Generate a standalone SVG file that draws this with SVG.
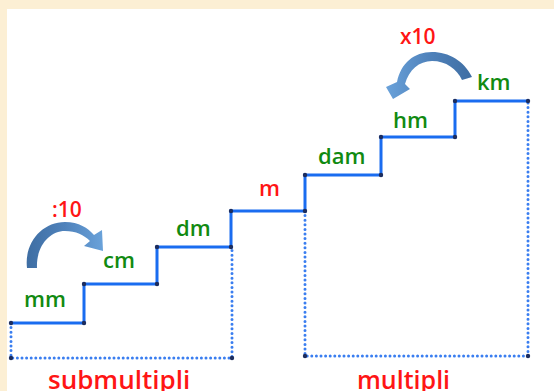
<svg xmlns="http://www.w3.org/2000/svg" width="554" height="391" viewBox="0 0 554 391">
  <defs>
    <style>
      .lbl { font-family: "Open Sans", "Liberation Sans", sans-serif; font-size: 22px; font-weight: 600; }
      .green { fill: #118a11; }
      .red { fill: #ff1515; }
      .big { font-size: 26px; }
      .stair { fill: none; stroke: #1a6cf0; stroke-width: 3; stroke-linejoin: miter; }
      .dots { fill: none; stroke: #3a7ef0; stroke-width: 3; stroke-linecap: round; stroke-dasharray: 0 4.6; }
      .pt { fill: #1c2d5e; }
      .arc { stroke: none; }
    </style>
    <linearGradient id="gl" x1="0" y1="0" x2="1" y2="0">
      <stop offset="0" stop-color="#3f6ea3"/>
      <stop offset="0.5" stop-color="#4f82bb"/>
      <stop offset="1" stop-color="#6aa2da"/>
    </linearGradient>
    <linearGradient id="gr" x1="1" y1="0" x2="0" y2="0">
      <stop offset="0" stop-color="#3f6ea3"/>
      <stop offset="0.5" stop-color="#4f82bb"/>
      <stop offset="1" stop-color="#6aa2da"/>
    </linearGradient>
  </defs>

  <rect x="0" y="0" width="554" height="391" fill="#fcefd4"/>
  <rect x="7" y="9" width="547" height="382" fill="#ffffff"/>

  <g id="stairs">
    <path class="stair" d="M11,323 H84 V284 H157 V247 H231 V211 H305 V175 H381 V137 H455 V101 H528"/>
    <path class="dots" d="M11,323 V358 H232 V247"/>
    <path class="dots" d="M305,211 V356 H528 V101"/>
    <g>
      <circle class="pt" cx="11" cy="323" r="2.2"/>
      <circle class="pt" cx="84" cy="323" r="2.2"/>
      <circle class="pt" cx="84" cy="284" r="2.2"/>
      <circle class="pt" cx="157" cy="284" r="2.2"/>
      <circle class="pt" cx="157" cy="247" r="2.2"/>
      <circle class="pt" cx="231" cy="247" r="2.2"/>
      <circle class="pt" cx="231" cy="211" r="2.2"/>
      <circle class="pt" cx="305" cy="211" r="2.2"/>
      <circle class="pt" cx="305" cy="175" r="2.2"/>
      <circle class="pt" cx="381" cy="175" r="2.2"/>
      <circle class="pt" cx="381" cy="137" r="2.2"/>
      <circle class="pt" cx="455" cy="137" r="2.2"/>
      <circle class="pt" cx="455" cy="101" r="2.2"/>
      <circle class="pt" cx="528" cy="101" r="2.2"/>
      <circle class="pt" cx="11" cy="358" r="2.2"/>
      <circle class="pt" cx="232" cy="358" r="2.2"/>
      <circle class="pt" cx="305" cy="356" r="2.2"/>
      <circle class="pt" cx="528" cy="356" r="2.2"/>
    </g>
  </g>

  <g id="node-mm"><text class="lbl green" x="24" y="307">mm</text></g>
  <g id="node-cm"><text class="lbl green" x="103" y="268">cm</text></g>
  <g id="node-dm"><text class="lbl green" x="176" y="236">dm</text></g>
  <g id="node-m"><text class="lbl red" x="259" y="196">m</text></g>
  <g id="node-dam"><text class="lbl green" x="318" y="164">dam</text></g>
  <g id="node-hm"><text class="lbl green" x="393" y="128">hm</text></g>
  <g id="node-km"><text class="lbl green" x="477" y="90">km</text></g>
  <g id="label-div"><text class="lbl red" x="52" y="217" style="font-size:21px">:10</text></g>
  <g id="label-mul"><text class="lbl red" x="400" y="44" style="font-size:21px">x10</text></g>
  <g id="label-sub"><text class="lbl red big" x="48" y="389">submultipli</text></g>
  <g id="label-multi"><text class="lbl red big" x="357" y="389" style="font-size:25px">multipli</text></g>

  <g id="connectors">
    <path class="arc" fill="url(#gl)" d="M27,268 C24,243 42,222 65,222 C79,222 88,228 94,235 L102,230 L103,251 L84,246 L90,241 C84,235 76,231 65,231 C49,231 36,247 37,268 Z"/>
    <path class="arc" fill="url(#gr)" d="M472,77 C464,61 449,52 432,52 C414,52 401,63 397,82 L386,87 L393,99 L410,89 L405,84 C409,70 419,61 432,61 C446,61 457,69 462,80 Z"/>
  </g>
</svg>
